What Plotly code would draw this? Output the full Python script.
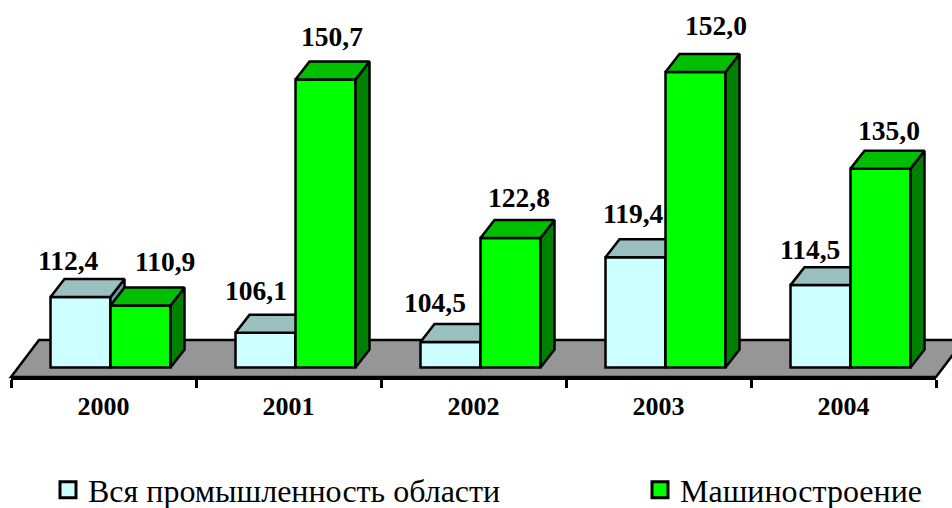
import plotly.graph_objects as go

years = ["2000", "2001", "2002", "2003", "2004"]
industry = [112.4, 106.1, 104.5, 119.4, 114.5]
machinery = [110.9, 150.7, 122.8, 152.0, 135.0]
name_industry = "Вся промышленность области"
name_machinery = "Машиностроение"

# layout constants (pixels in the 952x508 page)
W, H = 952, 508
AX_L, AX_R, AX_Y = 11, 936, 377.5
BASE = 100.0
BASE_PX = 368
PX_PER_UNIT = 5.69
PX_PER_CAT = (AX_R - AX_L) / 5
BAR_PX, SHIFT_PX = 60, 7
DEPTH_X_PX, DEPTH_Y_PX = 14, 18
FLOOR_DX, FLOOR_DY = 28, 37

bw = BAR_PX / PX_PER_CAT
shift = SHIFT_PX / PX_PER_CAT
ddx = DEPTH_X_PX / PX_PER_CAT
ddy = DEPTH_Y_PX / PX_PER_UNIT
y_lo = BASE - (AX_Y - BASE_PX) / PX_PER_UNIT
y_hi = BASE + BASE_PX / PX_PER_UNIT
xs = list(range(len(years)))

FONT = "Liberation Serif"
LINE = dict(color="black", width=2.5)


def top_faces(left, values):
    px, py = [], []
    for i, v in zip(xs, values):
        x0, x1 = i + left, i + left + bw
        px += [x0, x1, x1 + ddx, x0 + ddx, x0, None]
        py += [v, v, v + ddy, v + ddy, v, None]
    return px, py


def side_faces(left, values):
    px, py = [], []
    for i, v in zip(xs, values):
        x1 = i + left + bw
        px += [x1, x1 + ddx, x1 + ddx, x1, x1, None]
        py += [BASE, BASE + ddy, v + ddy, v, BASE, None]
    return px, py


def add_series(fig, values, left, front, top, side, xa, ya):
    fig.add_trace(go.Bar(
        x=xs, y=[v - BASE for v in values], base=BASE, width=bw, offset=left,
        marker=dict(color=front, line=LINE), showlegend=False, hoverinfo="skip",
        xaxis=xa, yaxis=ya))
    for fn, col in ((side_faces, side), (top_faces, top)):
        px, py = fn(left, values)
        fig.add_trace(go.Scatter(
            x=px, y=py, mode="lines", fill="toself", fillcolor=col, line=LINE,
            showlegend=False, hoverinfo="skip", xaxis=xa, yaxis=ya))


fig = go.Figure()
add_series(fig, industry, shift - bw, "#CCFFFF", "#99BFBF", "#669999", "x", "y")
add_series(fig, machinery, shift, "#00FF00", "#00BF00", "#008000", "x2", "y2")

# legend entries
for name, col, lg in ((name_industry, "#CCFFFF", "legend"), (name_machinery, "#00FF00", "legend2")):
    fig.add_trace(go.Scatter(
        x=[None], y=[None], mode="markers", name=name, legend=lg,
        marker=dict(symbol="square", size=16, color=col, line=dict(color="black", width=3))))

# value labels: fine pixel placement of each label relative to its bar
series = [(industry, shift - bw, [-12, -10, -16, -2, -11], [37, 42, 39, 44, 36]),
          (machinery, shift, [24, 6, 8, 20, 8], [44, 43, 40, 47, 38])]
annotations = []
for values, left, dxs, dys in series:
    for i, v, dx, dy in zip(xs, values, dxs, dys):
        annotations.append(dict(
            x=i + left + bw / 2, y=v, xref="x2", yref="y2", text=f"<b>{v:.1f}</b>".replace(".", ","),
            showarrow=False, xshift=dx, yshift=dy, font=dict(family=FONT, size=27.5, color="black")))


def fx(p):
    return (p - AX_L) / (AX_R - AX_L)


def fy(p):
    return (AX_Y - p) / AX_Y


floor_path = "M{} {} L{} {} L{} {} L{} {} Z".format(
    fx(AX_L), fy(AX_Y), fx(AX_L + FLOOR_DX), fy(AX_Y - FLOOR_DY),
    fx(AX_R + FLOOR_DX), fy(AX_Y - FLOOR_DY), fx(AX_R), fy(AX_Y))

boundaries = [i - 0.5 for i in range(len(years) + 1)]
x_common = dict(range=[-0.5, len(years) - 0.5], showgrid=False, zeroline=False)
y_common = dict(range=[y_lo, y_hi], showgrid=False, zeroline=False, visible=False)

fig.update_layout(
    width=W, height=H, autosize=False, barmode="overlay",
    margin=dict(l=AX_L, r=W - AX_R, t=0, b=H - AX_Y, pad=0),
    paper_bgcolor="white", plot_bgcolor="rgba(0,0,0,0)",
    font=dict(family=FONT, color="black"),
    xaxis=dict(**x_common, tickmode="array", tickvals=xs, ticktext=[f"<b>{y}</b>" for y in years],
               ticks="", ticklabelstandoff=4, tickangle=0, tickfont=dict(family=FONT, size=26, color="black"),
               showline=True, linecolor="black", linewidth=3,
               minor=dict(tickmode="array", tickvals=boundaries, ticks="outside", ticklen=8,
                          tickwidth=2.5, tickcolor="black")),
    yaxis=dict(**y_common),
    xaxis2=dict(**x_common, overlaying="x", anchor="y2", visible=False),
    yaxis2=dict(**y_common, overlaying="y", anchor="x2"),
    legend=dict(x=fx(48), y=1 - 490 / H, xref="paper", yref="container",
                xanchor="left", yanchor="middle", bgcolor="rgba(0,0,0,0)",
                font=dict(family=FONT, size=32, color="black")),
    legend2=dict(x=fx(640), y=1 - 490 / H, xref="paper", yref="container",
                 xanchor="left", yanchor="middle", bgcolor="rgba(0,0,0,0)",
                 font=dict(family=FONT, size=32, color="black")),
    shapes=[dict(type="path", path=floor_path, xref="paper", yref="paper", layer="below",
                 fillcolor="#969696", line=dict(color="black", width=2.5))],
    annotations=annotations,
)

fig.write_html("out.html", config=dict(displayModeBar=False),
               post_script="document.body.style.margin='0';")
